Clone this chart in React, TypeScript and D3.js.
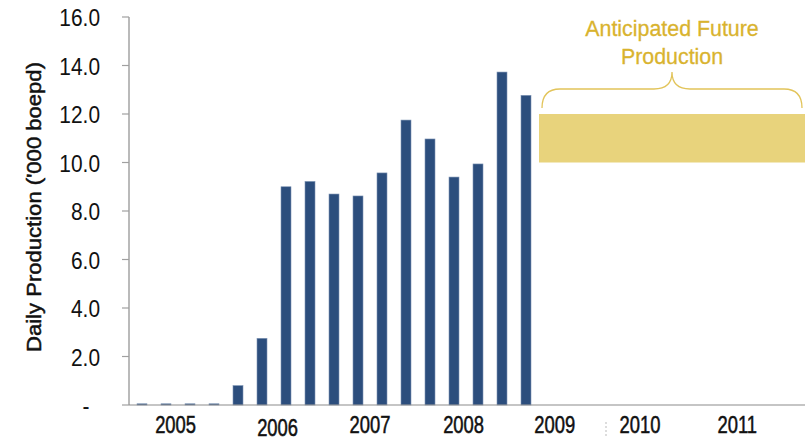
import React from "react";
import * as d3 from "d3";

const quarters: string[] = [];
const years = ["2005", "2006", "2007", "2008", "2009", "2010", "2011"];
years.forEach((y) => ["Q1", "Q2", "Q3", "Q4"].forEach((q) => quarters.push(`${y} ${q}`)));

// Actual production (first 17 quarters)
const production = [0.05, 0.05, 0.05, 0.05, 0.8, 2.75, 9.0, 9.22, 8.7, 8.62, 9.57, 11.75, 10.97, 9.4, 9.94, 13.73, 12.77];

// Anticipated range
const futureStartIndex = 17;
const futureLow = 10;
const futureHigh = 12;

const yTicks = [0, 2, 4, 6, 8, 10, 12, 14, 16];
// year label positions in quarter units
const yearLabelPos = [1.9, 6.15, 10.0, 13.9, 17.7, 21.25, 25.3];
const yearLabelDy = [0, 2.5, 0, 0, 0, 0, 0];

const W = 807;
const H = 437;

export default function App() {
  const x0 = 130;
  const x1 = 802;
  const x = d3.scaleLinear().domain([0, quarters.length]).range([x0, x1]);
  const y = d3.scaleLinear().domain([0, 16]).range([405, 17]);
  const step = x(1) - x(0);
  const barW = 10;

  const font = "'Liberation Sans', Arial, sans-serif";
  const gold = "#D9B32E";

  const bx0 = x(futureStartIndex) + 1;
  const bx1 = 805;
  const bTop = y(futureHigh);
  const braceBase = bTop - 6;
  const braceTop = bTop - 25;
  const peakY = braceTop - 17;
  const mid = (bx0 + 3 + bx1 - 3) / 2;
  const bp = d3.path();
  const L = bx0 + 3;
  const R = bx1 - 3;
  const r = 18;
  bp.moveTo(L, braceBase);
  bp.quadraticCurveTo(L, braceTop, L + r, braceTop);
  bp.lineTo(mid - r, braceTop);
  bp.quadraticCurveTo(mid, braceTop, mid, peakY);
  bp.quadraticCurveTo(mid, braceTop, mid + r, braceTop);
  bp.lineTo(R - r, braceTop);
  bp.quadraticCurveTo(R, braceTop, R, braceBase);

  return (
    <svg width={W} height={H} style={{ position: "absolute", left: 0, top: 0 }}>
      <rect width={W} height={H} fill="#fff" />
      {/* future band */}
      <rect x={bx0} y={y(futureHigh)} width={bx1 - bx0} height={y(futureLow) - y(futureHigh)} fill="#E8D37C" />
      <path d={bp.toString()} fill="none" stroke="#E2C45A" strokeWidth={1.3} />
      <g transform={`translate(${mid},36) scale(0.93,1)`}>
        <text x={0} y={0} textAnchor="middle" fontFamily={font} fontSize={23} fill={gold} stroke={gold} strokeWidth={0.3}>
          Anticipated Future
        </text>
        <text x={0} y={28} textAnchor="middle" fontFamily={font} fontSize={23} fill={gold} stroke={gold} strokeWidth={0.3}>
          Production
        </text>
      </g>
      {/* bars */}
      {production.map((v, i) => (
        <rect
          key={i}
          x={x(i) + step / 2 - barW / 2}
          y={y(v)}
          width={barW}
          height={y(0) - y(v)}
          fill="#2C4E7D"
          stroke="#7F95B5"
          strokeWidth={0.6}
        />
      ))}
      {/* axes */}
      <line x1={x0 - 1} x2={x0 - 1} y1={y(16)} y2={y(0)} stroke="#8C8C8C" strokeWidth={1.2} />
      <line x1={x0 - 1} x2={805} y1={y(0)} y2={y(0)} stroke="#8C8C8C" strokeWidth={1.2} />
      {yTicks.map((t) => (
        <g key={t}>
          <line x1={x0 - 8} x2={x0 - 1} y1={y(t)} y2={y(t)} stroke="#A0A0A0" strokeWidth={1.2} />
          <text
            transform={`translate(${t === 0 ? 86 : 100},${y(t) + 9}) scale(0.87,1)`}
            textAnchor={t === 0 ? "middle" : "end"}
            fontFamily={font}
            fontSize={24}
            fill="#111"
          >
            {t === 0 ? "-" : d3.format(".1f")(t)}
          </text>
        </g>
      ))}
      {years.map((yr, i) => (
        <text
          key={yr}
          transform={`translate(${x(yearLabelPos[i])},${433 + yearLabelDy[i]}) scale(0.8,1)`}
          textAnchor="middle"
          fontFamily={font}
          fontSize={23}
          fill="#111"
          stroke="#111"
          strokeWidth={0.5}
        >
          {yr}
        </text>
      ))}
      <line x1={606} x2={606} y1={422} y2={437} stroke="#BBB" strokeWidth={1} strokeDasharray="2,2" />
      <text
        transform={`translate(41,207) rotate(-90)`}
        textAnchor="middle"
        fontFamily={font}
        fontSize={21}
        fill="#111"
        stroke="#111"
        strokeWidth={0.5}
        textLength={290}
        lengthAdjust="spacingAndGlyphs"
      >
        Daily  Production ('000 boepd)
      </text>
    </svg>
  );
}
